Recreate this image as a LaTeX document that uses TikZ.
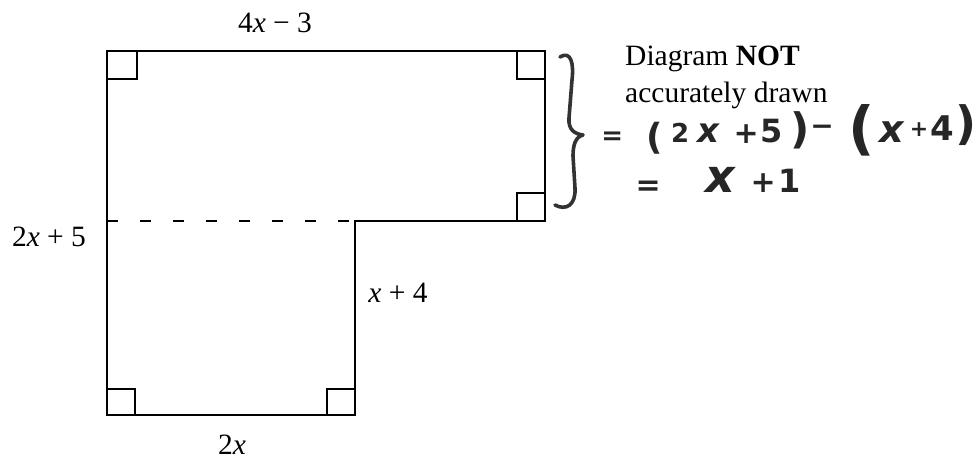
\documentclass[tikz,border=0pt]{standalone}
\usepackage{fontspec}
\setmainfont{Liberation Serif}
\newfontfamily\hwfont{DejaVu Sans}
\newcommand\hwtok[3]{\makebox[0pt]{\raisebox{#2pt}{\fontsize{#1}{#1}\selectfont #3}}}
\tikzset{
  outline/.style={line width=2.8pt, line join=miter},
  rtangle/.style={line width=1.8pt},
  dashline/.style={line width=2.4pt, dash pattern=on 11pt off 22pt},
  lbl/.style={inner sep=0pt, font=\fontsize{29.5}{36}\selectfont},
  hw/.style={inner sep=0pt, text=black!85, font=\hwfont\bfseries},
  brace/.style={line width=3.6pt, draw=black!80, line cap=round, line join=round}
}
\begin{document}
\begin{tikzpicture}[x=1pt,y=-1pt]
\useasboundingbox (0,0) rectangle (977,462);
% outline corners
\coordinate (tl) at (107,51);
\coordinate (tr) at (545,51);
\coordinate (sr) at (545,221);
\coordinate (si) at (355,221);
\coordinate (bi) at (355,415);
\coordinate (bl) at (107,415);
\coordinate (sl) at (107,221);
\draw[outline] (tl) -- (tr) -- (sr) -- (si) -- (bi) -- (bl) -- cycle;
\draw[dashline] (sl) -- (si);
% right-angle marks
\draw[rtangle] (107,79) -| (137,51);
\draw[rtangle] (517,51) |- (545,79);
\draw[rtangle] (517,221) |- (545,193);
\draw[rtangle] (107,389) -| (135,415);
\draw[rtangle] (355,389) -| (327,415);
% labels
\node[lbl, anchor=base] (top) at (275,33) {4\textit{x} − 3};
\node[lbl, anchor=base] (left) at (49,247) {2\textit{x} + 5};
\node[lbl, anchor=base] (inner) at (398,303) {\textit{x} + 4};
\node[lbl, anchor=base] (bottom) at (232,454) {2\textit{x}};
\node[lbl, anchor=base west] (note1) at (625,66) {Diagram \textbf{NOT}};
\node[lbl, anchor=base west] (note2) at (625,103) {accurately drawn};
% handwritten brace
\draw[brace] (560,57) .. controls (571,50) and (574,64) .. (572,80)
  -- (569,118) .. controls (568,130) and (575,134) .. (583,135)
  .. controls (575,137) and (573,146) .. (573,156)
  -- (575,188) .. controls (576,205) and (566,211) .. (555,205);
% handwritten working
\node[hw, anchor=base west] (work1) at (600,143) {%
\hspace*{12pt}\hwtok{26}{-2}{=}%
\hspace*{43pt}\hwtok{36}{-7}{(}%
\hspace*{25pt}\hwtok{26}{0}{2}%
\hspace*{28pt}\hwtok{34}{0}{\itshape x}%
\hspace*{38pt}\hwtok{30}{-1}{+}%
\hspace*{25pt}\hwtok{32}{0}{5}%
\hspace*{29pt}\hwtok{42}{-1}{)}%
\hspace*{22pt}\hwtok{28}{7}{−}%
\hspace*{40pt}\hwtok{58}{-6}{(}%
\hspace*{30pt}\hwtok{38}{0}{\itshape x}%
\hspace*{27pt}\hwtok{22}{6}{+}%
\hspace*{23pt}\hwtok{34}{2}{4}%
\hspace*{24pt}\hwtok{46}{3}{)}%
\hspace*{8pt}};
\node[hw, anchor=base west] (work2) at (600,193) {%
\hspace*{48pt}\hwtok{30}{-3}{=}%
\hspace*{72pt}\hwtok{46}{0}{\itshape x}%
\hspace*{43pt}\hwtok{30}{0}{+}%
\hspace*{26pt}\hwtok{32}{0}{1}%
\hspace*{8pt}};
\end{tikzpicture}
\end{document}
